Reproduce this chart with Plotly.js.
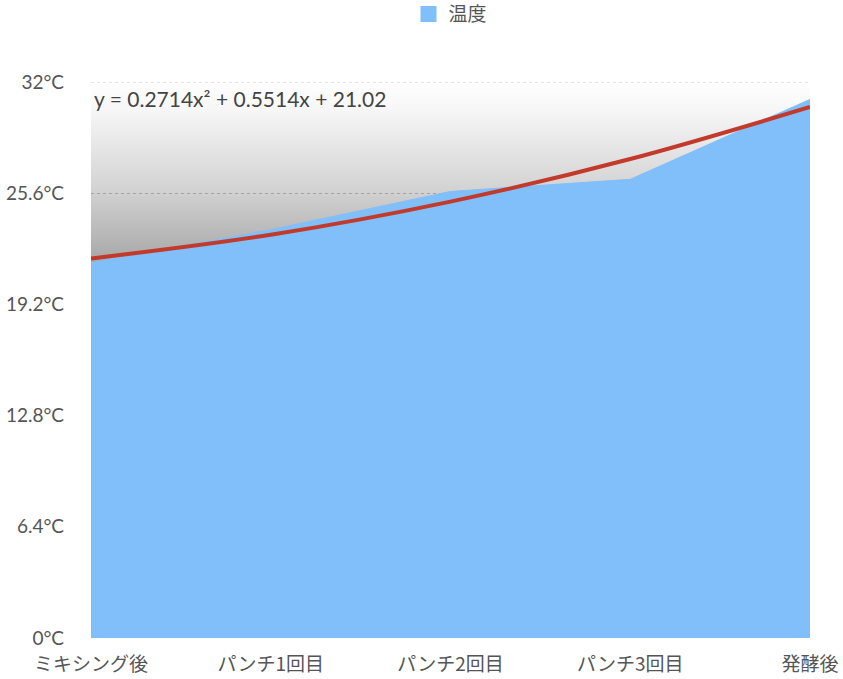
<!DOCTYPE html>
<html>
<head>
<meta charset="utf-8">
<script src="https://cdn.plot.ly/plotly-3.0.1.min.js"></script>
<style>
  html, body { margin: 0; padding: 0; background: #fff; }
  #chart { width: 843px; height: 679px; }
</style>
</head>
<body>
<div id="chart"></div>
<script>
// categories and measured temperatures (°C)
var stages = ["ミキシング後", "パンチ1回目", "パンチ2回目", "パンチ3回目", "発酵後"];
var temps = [21.6, 23.5, 25.7, 26.4, 31.0];

// polynomial trendline coefficients as printed on the chart: a*x^2 + b*x + c
var trendCoef = [0.2714, 0.5514, 21.02];
var trendLabel = "y = 0.2714x² + 0.5514x + 21.02";

var yMax = 32;
var yStep = 6.4;

function trendAt(i) {
    var x = i + 1;
    return trendCoef[0] * x * x + trendCoef[1] * x + trendCoef[2];
}

var trendVals = stages.map(function (s, i) { return trendAt(i); });
var topVals = stages.map(function () { return yMax; });

var area = {
    x: stages,
    y: temps,
    type: "scatter",
    mode: "lines",
    fill: "tozeroy",
    fillcolor: "#80bffa",
    line: { color: "#80bffa", width: 1 },
    name: "温度",
    showlegend: false,
    hoverinfo: "skip"
};

// grey shading above the area (transparent so the dotted grid shows through)
var shade = {
    x: stages,
    y: topVals,
    type: "scatter",
    mode: "lines",
    fill: "tonexty",
    fillgradient: {
        type: "vertical",
        start: 21,
        stop: yMax,
        colorscale: [[0, "rgba(0,0,0,0.37)"], [0.45, "rgba(0,0,0,0.17)"], [0.85, "rgba(0,0,0,0.035)"], [1, "rgba(0,0,0,0)"]]
    },
    line: { width: 0, color: "rgba(0,0,0,0)" },
    showlegend: false,
    hoverinfo: "skip"
};

var trend = {
    x: stages,
    y: trendVals,
    type: "scatter",
    mode: "lines",
    line: { color: "#c23a2c", width: 4, shape: "spline" },
    showlegend: false,
    hoverinfo: "skip"
};

var legendItem = {
    x: [null],
    y: [null],
    type: "scatter",
    mode: "markers",
    marker: { symbol: "square", size: 20, color: "#80bffa" },
    name: "温度"
};

var layout = {
    width: 843,
    height: 679,
    margin: { l: 91, r: 33, t: 82, b: 41, pad: 0, autoexpand: false },
    paper_bgcolor: "#ffffff",
    plot_bgcolor: "#ffffff",
    font: { family: "Lato, 'Noto Sans CJK JP', sans-serif", color: "#555555", size: 19 },
    showlegend: true,
    legend: {
        orientation: "h",
        x: 0.5,
        xanchor: "center",
        y: 1.122,
        yanchor: "middle",
        itemwidth: 30,
        font: { family: "'Noto Sans CJK JP', sans-serif", size: 19, color: "#555555" }
    },
    xaxis: {
        type: "category",
        range: [0, stages.length - 1],
        showgrid: false,
        zeroline: false,
        showline: false,
        ticks: "",
        ticklabelstandoff: 13,
        tickfont: { family: "'Noto Sans CJK JP', sans-serif", size: 19, color: "#555555" },
        fixedrange: true
    },
    yaxis: {
        range: [0, yMax],
        tick0: 0,
        dtick: yStep,
        ticksuffix: "°C",
        showgrid: true,
        gridcolor: "#c8c8c8",
        griddash: "dot",
        gridwidth: 1,
        zeroline: false,
        showline: false,
        ticks: "",
        ticklabelstandoff: 26,
        tickfont: { family: "Lato, sans-serif", size: 19, color: "#555555" },
        fixedrange: true
    },
    // dotted line along the top of the scale
    shapes: [{
        type: "line",
        xref: "paper",
        yref: "y",
        x0: 0,
        x1: 1,
        y0: yMax,
        y1: yMax,
        layer: "above",
        line: { color: "#c8c8c8", width: 1, dash: "dot" }
    }],
    annotations: [{
        text: trendLabel,
        xref: "paper",
        yref: "paper",
        x: 0.002,
        y: 0.97,
        xanchor: "left",
        yanchor: "middle",
        showarrow: false,
        font: { family: "Lato, sans-serif", size: 21, color: "#444444" }
    }]
};

Plotly.newPlot("chart", [area, shade, trend, legendItem], layout, { displayModeBar: false, staticPlot: true });
</script>
</body>
</html>
